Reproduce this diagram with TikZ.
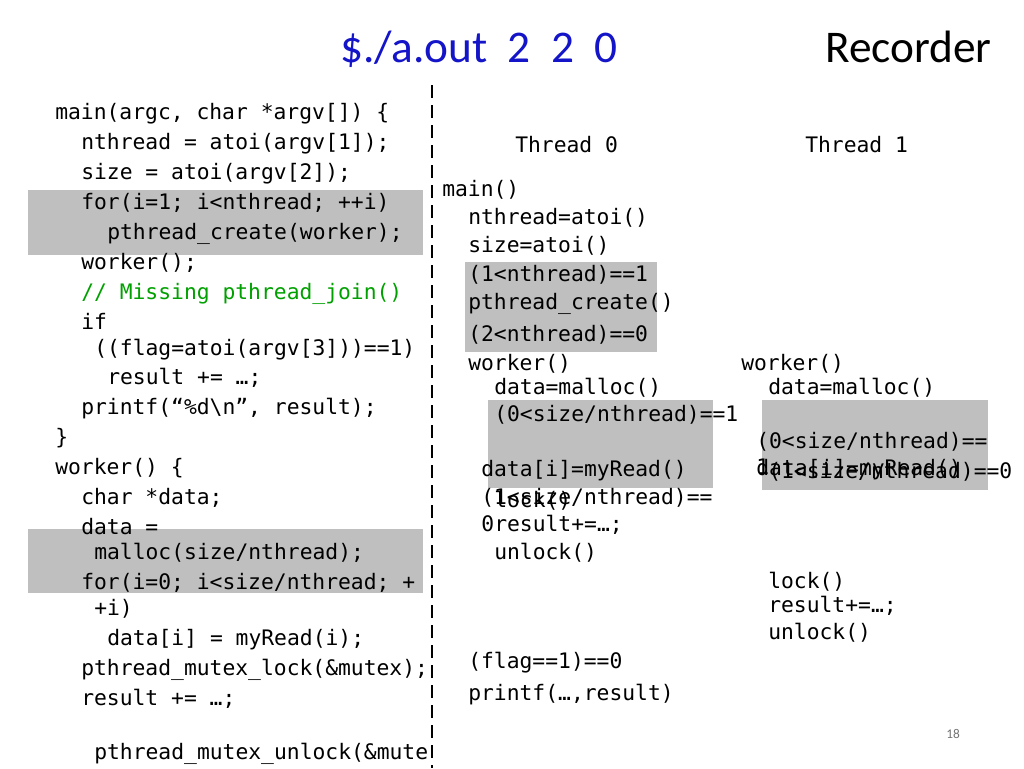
\documentclass[tikz,border=0pt]{standalone}
\usepackage{fontspec}
\setmainfont{Carlito}
\setmonofont{DejaVu Sans Mono}
\begin{document}
\begin{tikzpicture}[x=0.75pt,y=-0.75pt,
  c/.style={anchor=base west,inner sep=0pt,font=\ttfamily\fontsize{16}{18}\selectfont},
  box/.style={fill=black!25,draw=none}]
\useasboundingbox (0,0) rectangle (1024,768);
\fill[box] (28,190) rectangle (423,255);
\fill[box] (28,529) rectangle (423,593);
\fill[box] (465,262) rectangle (657,352);
\fill[box] (488,400) rectangle (713,488);
\fill[box] (762,400) rectangle (988,490);
\node[anchor=base west,inner sep=0pt,font=\fontsize{34}{38}\selectfont,text={rgb,255:red,20;green,20;blue,200}] (title) at (340,62) {\$./a.out\ \ 2\ \ 2\ \ 0};
\node[anchor=base west,inner sep=0pt,font=\fontsize{34}{38}\selectfont] (rec) at (825,62) {Recorder};
\draw[line width=2.2pt,dash pattern=on 10pt off 5pt] (432,85) -- (432,768);
% left code
\node[c] (l1) at (55,119) {main(argc, char *argv[]) \{};
\node[c] (l2) at (81,149) {nthread = atoi(argv[1]);};
\node[c] (l3) at (81,179) {size = atoi(argv[2]);};
\node[c] (l4) at (81,209) {for(i=1; i<nthread; ++i)};
\node[c] (l5) at (107,239) {pthread\_create(worker);};
\node[c] (l6) at (81,269) {worker();};
\node[c,text={rgb,255:red,0;green,160;blue,0}] (l7) at (81,299) {// Missing pthread\_join()};
\node[c] (l8) at (81,329) {if};
\node[c] (l9) at (94,355) {((flag=atoi(argv[3]))==1)};
\node[c] (l10) at (107,384) {result += …;};
\node[c] (l11) at (81,414) {printf(“\%d\textbackslash n”, result);};
\node[c] (l12) at (55,444) {\}};
\node[c] (l13) at (55,474) {worker() \{};
\node[c] (l14) at (81,504) {char *data;};
\node[c] (l15) at (81,534) {data =};
\node[c] (l16) at (94,559) {malloc(size/nthread);};
\node[c] (l17) at (81,589) {for(i=0; i<size/nthread; +};
\node[c] (l18) at (94,615) {+i)};
\node[c] (l19) at (107,645) {data[i] = myRead(i);};
\node[c] (l20) at (81,675) {pthread\_mutex\_lock(\&mutex);};
\node[c] (l21) at (81,705) {result += …;};
\node[c] (l22) at (94,759) {pthread\_mutex\_unlock(\&mute};
% right
\node[c] (t0) at (515,152) {Thread 0};
\node[c] (t1) at (805,152) {Thread 1};
\node[c] (r1) at (442,196) {main()};
\node[c] (r2) at (468,224) {nthread=atoi()};
\node[c] (r3) at (468,252) {size=atoi()};
\node[c] (r4) at (468,281) {(1<nthread)==1};
\node[c] (r5) at (468,309) {pthread\_create()};
\node[c] (r6) at (468,341) {(2<nthread)==0};
\node[c] (r7) at (468,370) {worker()};
\node[c] (r8) at (494,394) {data=malloc()};
\node[c] (r9) at (494,421) {(0<size/nthread)==1};
\node[c] (r10) at (481,476) {data[i]=myRead()};
\node[c] (r11) at (481,504) {(1<size/nthread)==};
\node[c] (r11b) at (481,531) {0};
\node[c] (r12) at (494,507) {lock()};
\node[c] (r13) at (494,531) {result+=…;};
\node[c] (r14) at (494,559) {unlock()};
\node[c] (s1) at (741,370) {worker()};
\node[c] (s2) at (768,394) {data=malloc()};
\node[c] (s3) at (756,448) {(0<size/nthread)==};
\node[c] (s3b) at (756,474) {1};
\node[c] (s4) at (756,475) {data[i]=myRead()};
\node[c] (s5) at (768,478) {(1<size/nthread)==0};
\node[c] (s6) at (768,588) {lock()};
\node[c] (s7) at (768,612) {result+=…;};
\node[c] (s8) at (768,639) {unlock()};
\node[c] (r15) at (468,668) {(flag==1)==0};
\node[c] (r16) at (468,700) {printf(…,result)};
\node[anchor=base west,inner sep=0pt,font=\fontsize{10}{12}\selectfont,text=black!55] (pg) at (946,738) {18};
\end{tikzpicture}
\end{document}
